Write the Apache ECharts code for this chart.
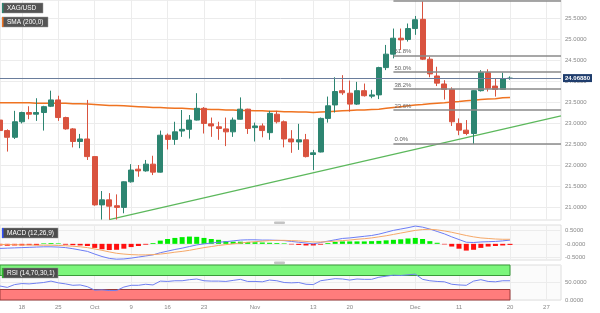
<!DOCTYPE html>
<html><head><meta charset="utf-8">
<script src="https://cdn.jsdelivr.net/npm/echarts@6/dist/echarts.min.js"></script>
<style>html,body{margin:0;padding:0;background:#fff}#c{width:600px;height:313px}</style>
</head><body><div id="c"></div>
<script>
const dates = ['2023-09-13','2023-09-14','2023-09-15','2023-09-18','2023-09-19','2023-09-20','2023-09-21','2023-09-22','2023-09-25','2023-09-26','2023-09-27','2023-09-28','2023-09-29',
'2023-10-02','2023-10-03','2023-10-04','2023-10-05','2023-10-06','2023-10-09','2023-10-10','2023-10-11','2023-10-12','2023-10-13','2023-10-16','2023-10-17','2023-10-18','2023-10-19','2023-10-20','2023-10-23','2023-10-24','2023-10-25','2023-10-26','2023-10-27','2023-10-30','2023-10-31',
'2023-11-01','2023-11-02','2023-11-03','2023-11-06','2023-11-07','2023-11-08','2023-11-09','2023-11-10','2023-11-13','2023-11-14','2023-11-15','2023-11-16','2023-11-17','2023-11-20','2023-11-21','2023-11-22','2023-11-23','2023-11-24','2023-11-27','2023-11-28','2023-11-29','2023-11-30',
'2023-12-01','2023-12-04','2023-12-05','2023-12-06','2023-12-07','2023-12-08','2023-12-11','2023-12-12','2023-12-13','2023-12-14','2023-12-15','2023-12-18','2023-12-19','2023-12-20','2023-12-21','2023-12-22','2023-12-25','2023-12-26','2023-12-27','2023-12-28','2023-12-29'];

const xTickDates  = ['2023-09-18','2023-09-25','2023-10-02','2023-10-09','2023-10-16','2023-10-23','2023-11-01','2023-11-13','2023-11-20','2023-12-01','2023-12-11','2023-12-20','2023-12-27'];
const xTickLabels = ['18','25','Oct','9','16','23','Nov','13','20','Dec','11','20','27'];

const openP = [23.07,22.82,22.66,23.03,23.25,23.21,23.25,23.40,23.55,23.13,
22.86,22.56,22.62,22.20,21.05,21.17,21.03,20.99,21.60,21.90,
21.86,22.02,21.83,22.71,22.61,22.81,22.85,23.07,23.35,22.98,
22.91,22.86,22.79,23.09,23.33,22.89,22.93,22.77,23.21,23.03,
22.62,22.55,22.60,22.25,22.31,23.11,23.43,23.77,23.71,23.45,
23.77,23.64,23.67,24.32,24.64,25.02,24.99,25.25,25.47,24.52,
24.12,23.93,23.80,22.99,22.83,22.75,23.77,24.20,23.88,23.80,
24.06];
const closeP = [22.82,22.66,23.03,23.25,23.21,23.25,23.39,23.55,23.13,22.86,
22.56,22.62,22.20,21.05,21.17,21.02,20.99,21.60,21.88,21.86,
22.02,21.83,22.71,22.61,22.79,22.85,23.07,23.35,22.99,22.93,
22.87,22.79,23.07,23.33,22.87,22.93,22.82,23.23,23.03,22.62,
22.55,22.60,22.20,22.29,23.11,23.41,23.75,23.72,23.45,23.77,
23.65,23.67,24.32,24.64,25.02,24.98,25.25,25.46,24.52,24.17,
23.95,23.80,23.03,22.83,22.75,23.77,24.20,23.83,23.80,24.06,
24.07];
const lowP = [22.78,22.32,22.62,22.99,23.09,23.05,22.82,23.38,23.05,22.84,
22.42,22.40,22.12,21.03,20.70,20.70,20.70,20.85,21.58,21.72,
21.84,21.76,21.82,22.37,22.48,22.67,22.63,23.06,22.75,22.67,
22.60,22.45,22.67,23.08,22.74,22.56,22.66,22.60,22.99,22.42,
22.29,22.36,22.18,21.88,22.30,23.01,23.25,23.67,23.27,23.43,
23.63,23.59,23.57,24.26,24.54,24.74,24.94,25.10,24.50,24.09,
23.88,23.56,22.93,22.71,22.71,22.50,23.75,23.75,23.63,23.79,
24.03];
const highP = [23.12,22.85,23.29,23.27,23.40,23.59,23.41,23.77,23.65,23.15,
22.88,22.74,23.55,22.21,21.38,21.33,21.30,21.61,22.02,22.00,
22.12,22.22,22.82,22.75,23.03,23.31,23.19,23.71,23.38,23.13,
23.03,23.13,23.13,23.61,23.34,23.01,22.99,23.29,23.29,23.06,
22.83,22.98,22.74,22.36,23.13,23.63,24.09,24.14,24.01,23.98,
23.94,23.79,24.34,24.86,25.25,25.25,25.37,25.55,25.90,24.58,
24.34,24.02,23.85,23.11,23.07,23.78,24.26,24.28,24.06,24.20,
24.11];

const sma200 = [23.48,23.48,23.48,23.48,23.48,23.47,23.47,23.47,23.47,23.47,
23.46,23.46,23.45,23.44,23.43,23.42,23.42,23.41,23.40,
23.39,23.38,23.37,23.37,23.36,23.35,23.35,23.34,23.33,
23.33,23.32,23.32,23.31,23.31,23.30,23.30,23.29,
23.29,23.28,23.28,23.27,23.27,23.26,23.26,23.25,
23.26,23.27,23.28,23.29,23.30,23.31,23.31,23.32,23.33,
23.35,23.37,23.39,23.41,23.43,23.44,23.46,23.47,23.48,23.50,
23.51,23.53,23.54,23.56,23.57,23.58,23.60,23.61];

const macdLine = [-0.17,-0.16,-0.15,-0.14,-0.13,-0.12,-0.11,-0.11,-0.12,-0.14,
-0.18,-0.23,-0.28,-0.38,-0.47,-0.54,-0.57,-0.56,-0.53,-0.49,
-0.45,-0.41,-0.33,-0.27,-0.21,-0.16,-0.10,-0.04,0.00,0.03,
0.06,0.08,0.11,0.14,0.15,0.15,0.14,0.14,0.13,0.12,
0.09,0.06,0.03,0.00,0.05,0.10,0.15,0.20,0.22,0.25,
0.28,0.31,0.36,0.43,0.50,0.55,0.60,0.66,0.62,0.55,
0.46,0.37,0.26,0.16,0.06,0.05,0.07,0.08,0.09,0.11,
0.14];
const signalLine = [-0.02,-0.03,-0.03,-0.04,-0.04,-0.05,-0.05,-0.05,-0.06,-0.07,
-0.09,-0.11,-0.14,-0.19,-0.24,-0.30,-0.35,-0.38,-0.40,-0.41,
-0.41,-0.40,-0.38,-0.35,-0.31,-0.28,-0.24,-0.19,-0.14,-0.10,
-0.06,-0.03,0.00,0.03,0.06,0.08,0.10,0.12,0.13,0.13,
0.12,0.11,0.09,0.07,0.07,0.08,0.10,0.12,0.14,0.17,
0.19,0.22,0.26,0.30,0.35,0.40,0.45,0.50,0.53,0.54,
0.52,0.48,0.43,0.37,0.31,0.26,0.22,0.20,0.18,0.17,
0.17];
const macdHist = [-0.06,-0.07,-0.06,-0.06,-0.05,-0.05,0.02,0.03,0.02,-0.03,
-0.05,-0.06,-0.08,-0.15,-0.20,-0.23,-0.22,-0.18,-0.12,-0.08,
-0.03,0.03,0.12,0.18,0.22,0.25,0.27,0.26,0.22,0.18,
0.15,0.10,0.08,0.08,0.07,0.06,0.05,0.04,0.03,0.02,
-0.02,-0.04,-0.06,-0.06,-0.03,0.03,0.07,0.09,0.09,0.09,
0.09,0.10,0.11,0.13,0.15,0.17,0.20,0.22,0.18,0.10,
0.04,-0.02,-0.10,-0.18,-0.25,-0.22,-0.15,-0.10,-0.08,-0.06,
-0.04];
const rsi = [40,36,44,47,46,48,50,54,49,46,
42,43,38,28,29,27,27,37,42,42,
45,43,54,53,55,55,58,60,55,54,
54,53,56,59,53,53,52,57,55,50,
49,50,45,44,55,58,61,60,57,60,
59,59,65,68,71,70,72,74,59,55,
53,52,45,43,42,54,58,53,52,55,
55];

const priceTicks = [21,21.5,22,22.5,23,23.5,24,24.5,25,25.5];
const macdTicks = [-0.5,0,0.5];
const rsiTicks = [0,50,100];
const rsiUpper = 70, rsiLower = 30;
const fibLevels = [25.91,24.61,24.21,23.81,23.31,22.51];
const fibLabels = ['100.0%','61.8%','50.0%','38.2%','23.6%','0.0%'];
const fibStartDate = '2023-11-28';
const trendDates = ['2023-10-04','2023-12-29'];
const trendValues = [20.70,23.17];
const lastPrice = 24.0688;

const FONT = 'Liberation Sans, Arial, sans-serif';
const UP = '#2d8571', DOWN = '#d9533f';
const lastIdx = openP.length - 1;

const candleData = dates.map((d,i) => i < openP.length ? [openP[i], closeP[i], lowP[i], highP[i]] : '-');
const tickShow = (idx, val) => xTickDates.indexOf(val) >= 0;

const grids = [
  {left:0, top:0, width:561, height:220},
  {left:0, top:225, width:561, height:35},
  {left:0, top:265, width:561, height:35}
].map((g,k) => Object.assign(g, {show:true, borderColor:'#dedede', borderWidth:1, backgroundColor: k===0 ? '#ffffff' : '#fbfbfb'}));

const xAxes = [0,1,2].map(k => ({
  type:'category', gridIndex:k, data:dates, boundaryGap:false,
  axisLine:{show:false}, axisTick:{show:false},
  axisLabel:{show:k===2, interval:tickShow, formatter:v => xTickLabels[xTickDates.indexOf(v)] || '',
    fontSize:6, color:'#888', fontFamily:FONT, margin:4},
  splitLine:{show:true, interval:tickShow, lineStyle:{color:'#ececec', width:1}}
}));

const yBase = {position:'right', axisLine:{show:false}, splitLine:{show:true, lineStyle:{color:'#ececec', width:1}}};
const yAxes = [
  Object.assign({}, yBase, {gridIndex:0, min:20.69, max:25.93,
    axisTick:{show:false, customValues:priceTicks},
    axisLabel:{customValues:priceTicks, formatter:v => v.toFixed(4), fontSize:6, color:'#888', fontFamily:FONT, margin:4}}),
  Object.assign({}, yBase, {gridIndex:1, min:-0.6, max:0.7,
    axisTick:{show:false, customValues:macdTicks},
    axisLabel:{customValues:macdTicks, formatter:v => (v===0 ? '-0.0000' : v.toFixed(4)), fontSize:6, color:'#888', fontFamily:FONT, margin:4}}),
  Object.assign({}, yBase, {gridIndex:2, min:0, max:100,
    axisTick:{show:false, customValues:rsiTicks},
    axisLabel:{customValues:[0,50], formatter:v => v.toFixed(4), fontSize:6, color:'#888', fontFamily:FONT, margin:4}})
];

const fibMarks = fibLevels.map((v,k) => [
  {coord:[fibStartDate, v], name:fibLabels[k]},
  {coord:[dates[dates.length-1], v]}
]);

const option = {
  animation:false,
  backgroundColor:'#ffffff',
  textStyle:{fontFamily:FONT},
  grid:grids, xAxis:xAxes, yAxis:yAxes,
  series:[
    {type:'line', xAxisIndex:0, yAxisIndex:0, data:sma200, showSymbol:false, symbol:'none',
      lineStyle:{color:'#ef7321', width:1.5}, z:3, silent:true},
    {type:'line', xAxisIndex:0, yAxisIndex:0, data:trendDates.map((d,i)=>[d, trendValues[i]]), showSymbol:false, symbol:'none',
      lineStyle:{color:'#5cb85c', width:1.2}, z:3, silent:true},
    {type:'candlestick', xAxisIndex:0, yAxisIndex:0, data:candleData, barWidth:5.5, z:4,
      itemStyle:{color:UP, color0:DOWN, borderColor:UP, borderColor0:DOWN, borderWidth:1},
      markLine:{symbol:['none','none'], silent:true, animation:false,
        data:[
          ...fibMarks.map(p => [Object.assign({}, p[0], {
              lineStyle:{color:'#8a8a8a', width:1.5, type:'solid'},
              label:{show:true, position:'insideStartTop', formatter:'{b}', fontSize:6, color:'#666', fontFamily:FONT, distance:[1,1]}}), p[1]]),
          {yAxis:lastPrice, lineStyle:{color:'#6a7d9c', width:1, type:'solid'},
            label:{show:true, position:'end', formatter:lastPrice.toFixed(5), backgroundColor:'#1f3d6d', color:'#fff',
              fontSize:6, fontWeight:'bold', fontFamily:FONT, padding:[1,2], distance:2}}
        ]}},
    {type:'bar', xAxisIndex:1, yAxisIndex:1, barWidth:5,
      data:macdHist.map(v => ({value:v, itemStyle:{color: v >= 0 ? '#00ee00' : '#ff1010'}})), silent:true},
    {type:'line', xAxisIndex:1, yAxisIndex:1, data:macdLine, showSymbol:false, symbol:'none', lineStyle:{color:'#6b7cf5', width:1}, silent:true},
    {type:'line', xAxisIndex:1, yAxisIndex:1, data:signalLine, showSymbol:false, symbol:'none', lineStyle:{color:'#f5a868', width:1}, silent:true},
    {type:'line', xAxisIndex:2, yAxisIndex:2, data:rsi, showSymbol:false, symbol:'none', lineStyle:{color:'#6f7ff0', width:1}, z:5, silent:true,
      markArea:{silent:true, data:[
        [{xAxis:dates[0], yAxis:rsiUpper, itemStyle:{color:'#7cf67c', borderColor:'#3a9a3a', borderWidth:1}}, {xAxis:dates[lastIdx], yAxis:100}],
        [{xAxis:dates[0], yAxis:0, itemStyle:{color:'#ff7c7c', borderColor:'#9a3a3a', borderWidth:1}}, {xAxis:dates[lastIdx], yAxis:rsiLower}]
      ]}}
  ],
  graphic:[
    {type:'rect', shape:{x:2,y:3,width:41,height:10}, style:{fill:'#555555', stroke:'#999', lineWidth:0.5}, z:100},
    {type:'rect', shape:{x:2,y:3,width:1.5,height:10}, style:{fill:'#2d8571'}, z:101},
    {type:'text', x:7, y:8, style:{text:'XAG/USD', fill:'#fff', fontSize:6.5, fontFamily:FONT, verticalAlign:'middle'}, z:102},
    {type:'rect', shape:{x:2,y:17,width:46,height:10}, style:{fill:'#555555', stroke:'#999', lineWidth:0.5}, z:100},
    {type:'rect', shape:{x:2,y:17,width:1.5,height:10}, style:{fill:'#ef7321'}, z:101},
    {type:'text', x:7, y:22, style:{text:'SMA (200,0)', fill:'#fff', fontSize:6.5, fontFamily:FONT, verticalAlign:'middle'}, z:102},
    {type:'rect', shape:{x:2,y:228,width:56,height:10}, style:{fill:'#4d4d4d', stroke:'#999', lineWidth:0.5}, z:100},
    {type:'rect', shape:{x:2,y:228,width:1.5,height:10}, style:{fill:'#3050ff'}, z:101},
    {type:'text', x:7, y:233, style:{text:'MACD (12,26,9)', fill:'#fff', fontSize:6.5, fontFamily:FONT, verticalAlign:'middle'}, z:102},
    {type:'rect', shape:{x:2,y:268,width:56,height:10}, style:{fill:'#4d4d4d', stroke:'#999', lineWidth:0.5}, z:100},
    {type:'rect', shape:{x:2,y:268,width:1.5,height:10}, style:{fill:'#2fb82f'}, z:101},
    {type:'text', x:7, y:273, style:{text:'RSI (14,70,30,1)', fill:'#fff', fontSize:6.5, fontFamily:FONT, verticalAlign:'middle'}, z:102},
    {type:'rect', shape:{x:274,y:221.5,width:11,height:2.5,r:1}, style:{fill:'#c4c4c4'}, z:100},
    {type:'rect', shape:{x:274,y:261.5,width:11,height:2.5,r:1}, style:{fill:'#c4c4c4'}, z:100}
  ]
};
const chart = echarts.init(document.getElementById('c'), null, {renderer:'canvas'});
chart.setOption(option);
</script></body></html>
